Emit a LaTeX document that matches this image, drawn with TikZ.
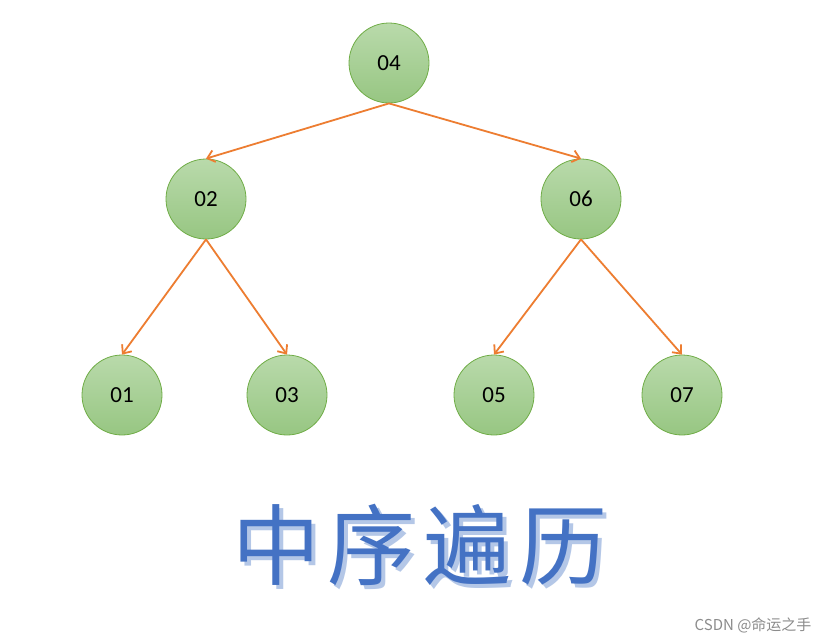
\documentclass[tikz,border=0pt]{standalone}
\usepackage{fontspec}
\setmainfont{Carlito}
\newfontfamily\cjk{Noto Sans CJK SC}
\usetikzlibrary{arrows.meta,shadings}
\definecolor{nodetop}{HTML}{B9DAAB}
\definecolor{nodebot}{HTML}{97C682}
\definecolor{nodeline}{HTML}{70AD47}
\definecolor{edgecol}{HTML}{ED7D31}
\definecolor{titlecol}{HTML}{4472C4}
\definecolor{titleshadow}{HTML}{B4C7E7}
\newcommand{\titletext}{中\hspace{8pt}序\hspace{8pt}遍\hspace{8pt}历}
\tikzset{
  treenode/.style={circle, minimum size=80pt, inner sep=0pt, draw=nodeline, line width=0.8pt,
    top color=nodetop, bottom color=nodebot, font=\fontsize{23}{23}\selectfont},
  treeedge/.style={draw=edgecol, line width=1.8pt, -{Straight Barb[length=7pt,width=12pt]}},
}
\begin{document}
\begin{tikzpicture}[x=1pt,y=1pt]
\useasboundingbox[fill=white] (0,0) rectangle (832,-643);
\node[treenode] (n04) at (389,-63) {04};
\node[treenode] (n02) at (206,-199) {02};
\node[treenode] (n06) at (581,-199) {06};
\node[treenode] (n01) at (122,-395) {01};
\node[treenode] (n03) at (287,-395) {03};
\node[treenode] (n05) at (494,-395) {05};
\node[treenode] (n07) at (682,-395) {07};
\draw[treeedge] (n04.south) -- (n02.north);
\draw[treeedge] (n04.south) -- (n06.north);
\draw[treeedge] (n02.south) -- (n01.north);
\draw[treeedge] (n02.south) -- (n03.north);
\draw[treeedge] (n06.south) -- (n05.north);
\draw[treeedge] (n06.south) -- (n07.north);
\node[font=\cjk\fontsize{88}{88}\selectfont, inner sep=0pt] (title) at (420,-547)
  {\makebox[0pt][l]{\hspace{4pt}\raisebox{-4pt}{\color{titleshadow}\titletext}}\color{titlecol}\titletext};
\node[text=black!45, font=\cjk\fontsize{15}{15}\selectfont, anchor=east] (mark) at (815,-625) {CSDN @命运之手};
\end{tikzpicture}
\end{document}
